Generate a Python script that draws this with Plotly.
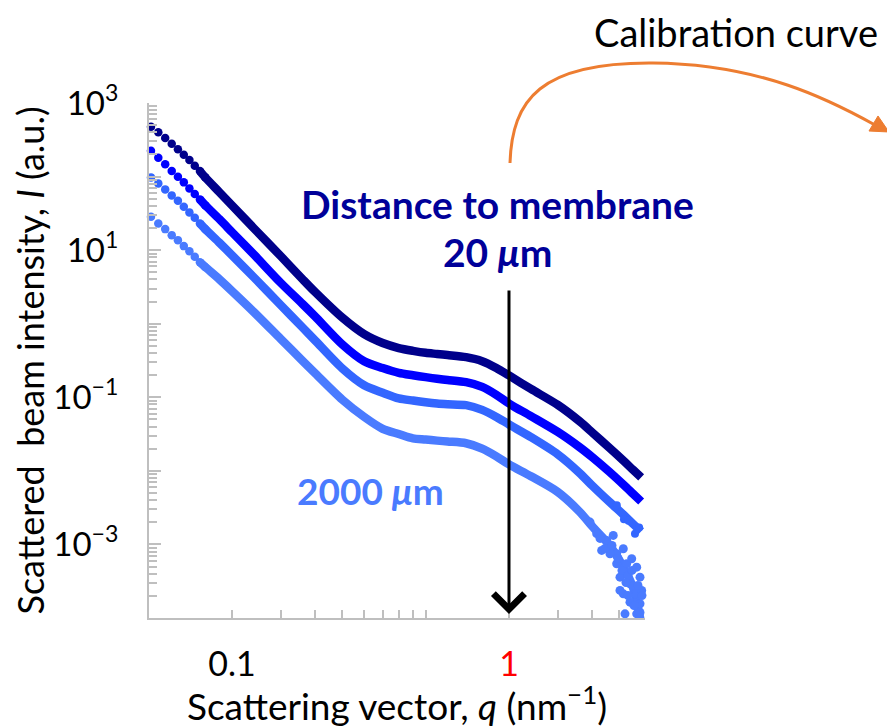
import plotly.graph_objects as go

# ---------------- data ----------------
q_dots = [0.0510, 0.0542, 0.0574, 0.0606, 0.0638, 0.0670, 0.0702, 0.0734, 0.0766]
q_curve = [0.08, 0.09, 0.10, 0.12, 0.15, 0.18, 0.20, 0.25, 0.30, 0.35, 0.40, 0.45,
           0.50, 0.55, 0.60, 0.70, 0.80, 0.90, 1.0, 1.2, 1.5, 1.8, 2.0, 2.3, 2.6, 2.8, 3.0]

I_20 = [476, 399, 334, 279, 234.5, 198, 167.7, 140.3, 118.8,
        97.8, 61.5, 40.6, 19.8, 8.28, 4.01, 2.67, 1.21, 0.720, 0.546, 0.467, 0.428,
        0.402, 0.388, 0.375, 0.351, 0.310, 0.2504, 0.198, 0.1297, 0.0788, 0.0470,
        0.0331, 0.0207, 0.01355, 0.01038, 0.00813]
I_b = [224.4, 180.3, 146.6, 118.8, 99.4, 83.4, 69.1, 57.8, 48.97,
       40.9, 26.4, 17.58, 8.71, 3.59, 1.848, 1.245, 0.5245, 0.309, 0.2496, 0.2148, 0.1993,
       0.1877, 0.1785, 0.1719, 0.1604, 0.1385, 0.1081, 0.0823, 0.05548, 0.03383, 0.02095,
       0.01531, 0.00975, 0.00639, 0.00490, 0.00383]
I_c = [97.5, 80.8, 66.97, 55.5, 46.85, 38.8, 32.6, 27.5, 23.1,
       19.37, 12.65, 8.52, 4.265, 1.791, 0.885, 0.587, 0.2473, 0.1456, 0.1151, 0.0966, 0.0902,
       0.0855, 0.0823, 0.0805, 0.0781, 0.0674, 0.0541, 0.0427, 0.02874, 0.01677, 0.00934,
       0.00627, 0.00381, 0.0025, 0.00191, 0.0015]
I_2000 = [28.4, 23.1, 19.31, 16.0, 13.68, 11.34, 9.69, 8.11, 6.87,
          5.91, 4.02, 2.777, 1.438, 0.619, 0.3118, 0.2101, 0.0930, 0.0541, 0.03727, 0.03168, 0.02759,
          0.02666, 0.02576, 0.02504, 0.02374, 0.02005, 0.01575, 0.01222, 0.00844, 0.00516, 0.00277,
          0.00175, 0.000985, 0.000473, 0.000262, 0.000085]

# scattered tails at high q
q_c_tail = [2.45, 2.6, 2.7, 2.85, 2.95]
I_c_tail = [0.0034, 0.0022, 0.0021, 0.0014, 0.0017]
q_2000_tail = [1.961, 2.073, 2.253, 2.379, 2.161, 2.448, 2.586, 2.660, 2.773, 2.891, 2.516, 2.734,
               2.971, 2.850, 2.586, 2.734, 2.971, 2.891, 2.623, 2.930, 3.013, 2.448, 2.315,
               2.131, 2.222, 2.354, 2.475, 2.558, 2.689, 2.803, 2.689, 2.826, 2.971, 3.020,
               2.922, 2.780, 2.645, 2.516]
I_2000_tail = [0.00201, 0.0014, 0.001133, 0.001326, 0.000829, 0.000747, 0.000874, 0.000546,
               0.000639, 0.000491, 0.000359, 0.000292, 0.000359, 0.000213, 0.000213, 0.000164,
               0.000156, 0.000114, 0.000114, 0.0000925, 0.000237, 0.000546, 0.000747,
               0.001207, 0.000882, 0.000969, 0.000645, 0.000443, 0.000379, 0.000277, 0.000202,
               0.000148, 0.000119, 0.000202, 0.000277, 0.000443, 0.000304, 0.000237]

series_colors = ["#00008B", "#0000FF", "#3366FF", "#4A7BFF"]

x_major = [0.1, 1]
x_major_text = ["0.1", "<span style='color:red'>1</span>"]
x_minor = [0.15, 0.2, 0.25, 0.3, 0.35, 0.4, 0.45, 0.5, 1.5, 2.0, 2.5]

y_major = [1e3, 1e2, 1e1, 1e0, 1e-1, 1e-2, 1e-3, 1e-4]
y_major_text = ["10<sup>3</sup>", "", "10<sup>1</sup>", "", "10<sup>−1</sup>", "", "10<sup>−3</sup>", ""]
y_minor = [k * 10.0 ** n for n in range(-4, 3) for k in range(2, 10)]

# ---------------- geometry ----------------
OFF = 8                      # page body margin
W, H = 887, 720
PL, PR, PT, PB = 149, 645, 103, 618       # plot box on screen
ML, MT = PL - OFF, PT - OFF
MR, MB = W - (PR - OFF), H - (PB - OFF)
PW, PH = PR - PL, PB - PT


def px(x, y):
    """screen pixel -> paper coordinates (decorations only)"""
    return (x - PL) / PW, (PB - y) / PH


fig = go.Figure()
q_all = q_dots + q_curve
n_dots = len(q_dots)
for I, col in zip([I_2000, I_c, I_b, I_20], series_colors[::-1]):
    fig.add_trace(go.Scatter(x=q_all[n_dots - 1:], y=I[n_dots - 1:], mode="lines",
                             line=dict(color=col, width=8.5, shape="spline", smoothing=0.8),
                             cliponaxis=False, hoverinfo="skip"))
    fig.add_trace(go.Scatter(x=q_all[:n_dots + 1], y=I[:n_dots + 1], mode="markers",
                             marker=dict(color=col, size=8.5, line=dict(width=0)), cliponaxis=False))
fig.add_trace(go.Scatter(x=q_c_tail, y=I_c_tail, mode="markers",
                         marker=dict(color=series_colors[2], size=8, line=dict(width=0)),
                         cliponaxis=False))
fig.add_trace(go.Scatter(x=q_2000_tail, y=I_2000_tail, mode="markers",
                         marker=dict(color=series_colors[3], size=9, line=dict(width=0)),
                         cliponaxis=False))

axis_grey = "#BFBFBF"
fig.update_layout(
    width=W, height=H,
    margin=dict(l=ML, r=MR, t=MT, b=MB, autoexpand=False),
    plot_bgcolor="white", paper_bgcolor="white",
    showlegend=False,
    font=dict(family="Lato", color="black"),
    xaxis=dict(
        type="log", range=[-1.2996, 0.491],
        showline=True, linecolor=axis_grey, linewidth=2,
        showgrid=False, zeroline=False,
        ticks="inside", ticklen=8, tickwidth=1.5, tickcolor=axis_grey,
        tickmode="array", tickvals=x_major, ticktext=x_major_text,
        tickfont=dict(size=34, color="black"), ticklabelstandoff=15,
        minor=dict(tickmode="array", tickvals=x_minor, ticks="inside", ticklen=8,
                   tickwidth=1.5, tickcolor=axis_grey, showgrid=False),
        title=dict(text="Scattering vector, <i>q</i> (nm<sup>−1</sup>)",
                   font=dict(size=37, color="black"), standoff=4),
    ),
    yaxis=dict(
        type="log", range=[-4.0, 3.0],
        showline=True, linecolor=axis_grey, linewidth=2,
        showgrid=False, zeroline=False,
        ticks="inside", ticklen=12, tickwidth=1.5, tickcolor=axis_grey,
        tickmode="array", tickvals=y_major, ticktext=y_major_text,
        tickfont=dict(size=33, color="black"), ticklabelstandoff=22,
        minor=dict(tickmode="array", tickvals=y_minor, ticks="inside", ticklen=8,
                   tickwidth=1.5, tickcolor=axis_grey, showgrid=False),
        title=dict(text="Scattered  beam intensity, <i>I</i> (a.u.)",
                   font=dict(size=36, color="black"), standoff=8),
    ),
)

# text labels
ann = []


def label(x, y, text, size, color):
    a, b = px(x, y)
    ann.append(dict(x=a, y=b, xref="paper", yref="paper", text=text, showarrow=False,
                    xanchor="center", yanchor="middle", font=dict(size=size, color=color)))


label(736, 32, "Calibration curve", 38, "black")
label(497, 204, "<b>Distance to membrane</b>", 39, "#000099")
label(497, 252, "<b>20 <i>μ</i>m</b>", 39, "#000099")
label(370, 490, "<b>2000 <i>μ</i>m</b>", 37, series_colors[3])
# black arrow pointing at q = 1
ann.append(dict(x=0, y=px(0, 614)[1], xref="x", yref="paper", text="", showarrow=True,
                ax=0, ay=-325, arrowhead=4, arrowsize=2, arrowwidth=3, arrowcolor="black"))
fig.update_layout(annotations=ann)


# orange curved arrow
def P(x, y):
    a, b = px(x, y)
    return f"{a:.4f},{b:.4f}"


path = (f"M {P(510,163)} C {P(512,100)} {P(540,62)} {P(653,63)} "
        f"C {P(760,64)} {P(830,100)} {P(875,125)}")
fig.add_shape(type="path", path=path, xref="paper", yref="paper",
              line=dict(color="#ED7D31", width=3))
head = f"M {P(889,132)} L {P(869,131)} L {P(878,116)} Z"
fig.add_shape(type="path", path=head, xref="paper", yref="paper",
              line=dict(color="#ED7D31", width=1), fillcolor="#ED7D31")

fig.write_html("out.html")
